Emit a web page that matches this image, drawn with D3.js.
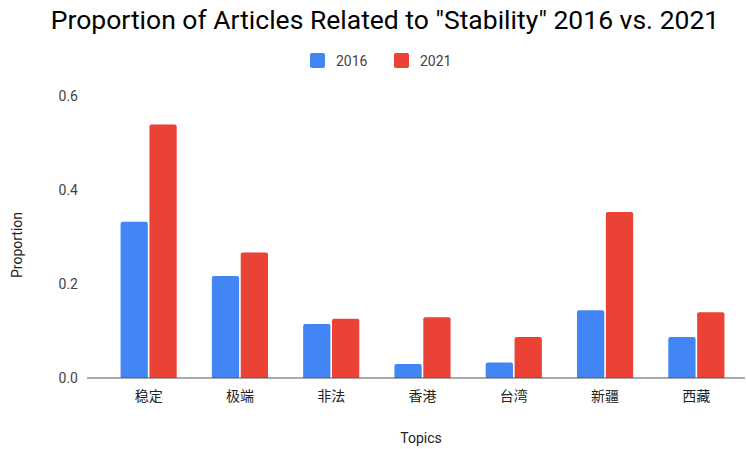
<!DOCTYPE html>
<html>
  <head>
    <meta charset="utf-8">
    <title>Stability articles 2016 vs 2021</title>
    <script src="https://d3js.org/d3.v7.min.js"></script>
    <style>
      body { margin: 0; background: #fff; }
      text { font-family: Roboto, "Noto Sans CJK SC", sans-serif; }
      .title { font-size: 26.5px; fill: #000; }
      .legend text, .tick-label { font-size: 14px; fill: #444; }
      .cat-label { font-size: 14px; fill: #222; font-family: "Noto Sans CJK SC", sans-serif; }
      .axis-title { font-size: 14px; fill: #222; }
    </style>
  </head>
  <body>
    <svg width="746" height="449"></svg>
    <script>
      const topics = ["稳定", "极端", "非法", "香港", "台湾", "新疆", "西藏"];
      const seriesNames = ["2016", "2021"];
      const values2016 = [0.332, 0.217, 0.115, 0.030, 0.033, 0.144, 0.087];
      const values2021 = [0.539, 0.267, 0.126, 0.129, 0.087, 0.353, 0.140];
      const yTicks = [0, 0.2, 0.4, 0.6];
      const colors = ["#4285F4", "#EA4335"];

      const svg = d3.select("svg");
      const rows = topics.map((t, i) => ({ topic: t, vals: [values2016[i], values2021[i]] }));

      const x = d3.scaleBand()
        .domain(topics)
        .range([103, 742])
        .paddingInner(0.385)
        .paddingOuter(0.1925);
      const xs = d3.scaleBand()
        .domain(seriesNames)
        .range([0, x.bandwidth()])
        .paddingInner(0.055);
      const y = d3.scaleLinear()
        .domain([0, 0.6])
        .range([378, 95.7]);

      // title
      svg.append("text")
        .attr("class", "title")
        .attr("x", 385)
        .attr("y", 29)
        .attr("text-anchor", "middle")
        .text('Proportion of Articles Related to "Stability" 2016 vs. 2021');

      // legend
      const legend = svg.append("g").attr("class", "legend");
      const legendX = [310, 394];
      seriesNames.forEach((s, i) => {
        legend.append("rect")
          .attr("x", legendX[i]).attr("y", 53)
          .attr("width", 15).attr("height", 15)
          .attr("rx", 2)
          .attr("fill", colors[i]);
        legend.append("text")
          .attr("x", legendX[i] + 26).attr("y", 66)
          .text(s);
      });

      // y tick labels
      svg.selectAll(".tick-label")
        .data(yTicks)
        .enter().append("text")
        .attr("class", "tick-label")
        .attr("x", 78)
        .attr("y", d => y(d))
        .attr("dy", "0.35em")
        .attr("text-anchor", "end")
        .text(d => d.toFixed(1));

      // bars
      function barPath(x0, w, y0, y1, r) {
        r = Math.min(r, (y1 - y0), w / 2);
        return `M${x0},${y1}V${y0 + r}Q${x0},${y0} ${x0 + r},${y0}H${x0 + w - r}Q${x0 + w},${y0} ${x0 + w},${y0 + r}V${y1}Z`;
      }
      const group = svg.selectAll(".grp")
        .data(rows)
        .enter().append("g")
        .attr("class", "grp")
        .attr("transform", d => `translate(${x(d.topic)},0)`);
      group.selectAll("path")
        .data(d => d.vals.map((v, i) => ({ s: seriesNames[i], v, i })))
        .enter().append("path")
        .attr("fill", d => colors[d.i])
        .attr("d", d => barPath(xs(d.s), xs.bandwidth(), y(d.v), y(0), 2));

      // baseline
      svg.append("line")
        .attr("x1", 87).attr("x2", 745)
        .attr("y1", y(0)).attr("y2", y(0))
        .attr("stroke", "#555")
        .attr("stroke-width", 1);

      // category labels
      svg.selectAll(".cat-label")
        .data(topics)
        .enter().append("text")
        .attr("class", "cat-label")
        .attr("x", d => x(d) + x.bandwidth() / 2)
        .attr("y", 401)
        .attr("text-anchor", "middle")
        .text(d => d);

      // axis titles
      svg.append("text")
        .attr("class", "axis-title")
        .attr("x", 421).attr("y", 443)
        .attr("text-anchor", "middle")
        .text("Topics");
      svg.append("text")
        .attr("class", "axis-title")
        .attr("transform", "translate(22,245) rotate(-90)")
        .attr("text-anchor", "middle")
        .text("Proportion");
    </script>
  </body>
</html>
